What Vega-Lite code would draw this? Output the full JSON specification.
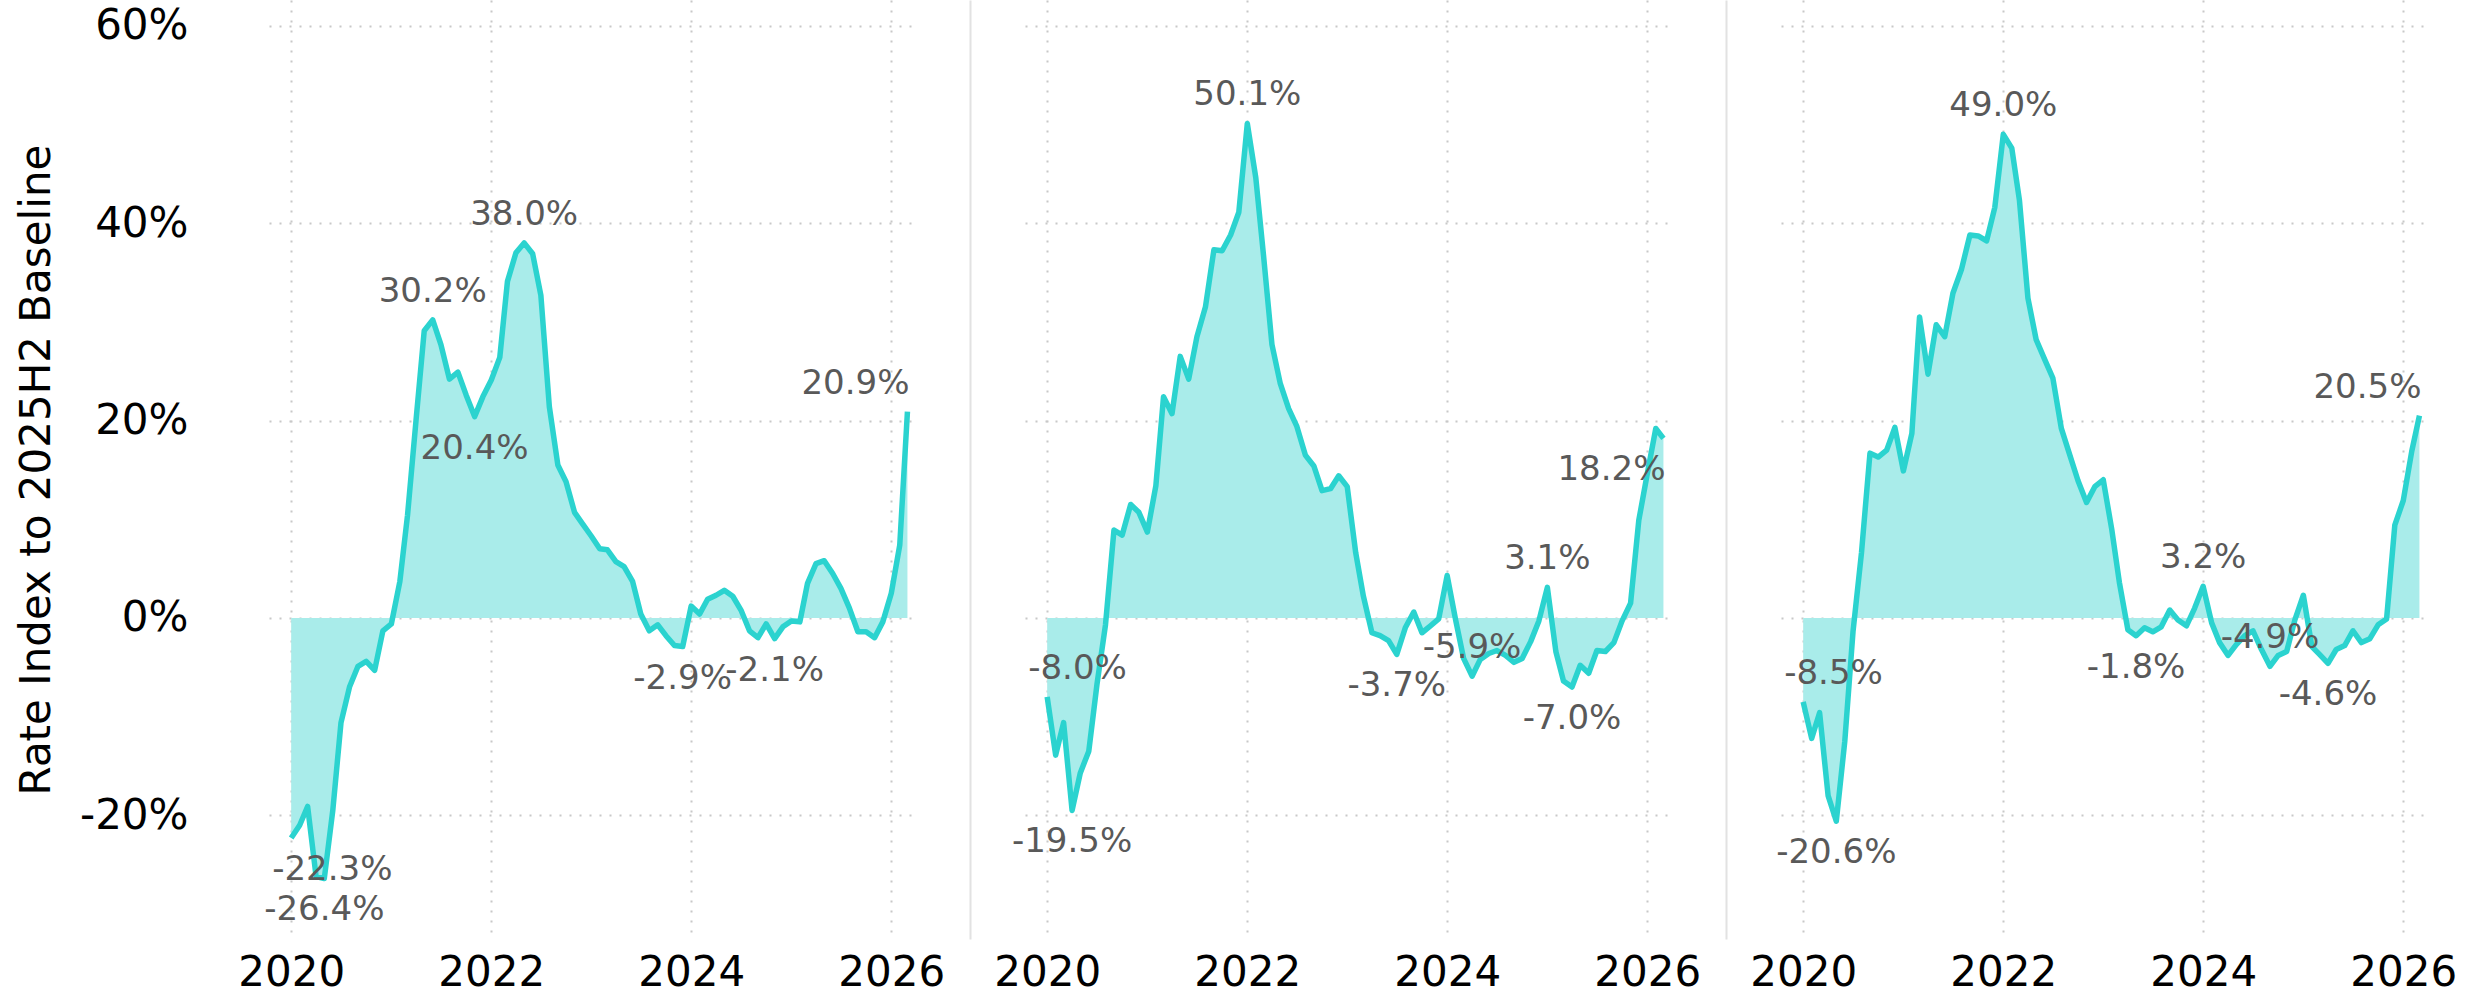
{
"$schema": "https://vega.github.io/schema/vega-lite/v6.json",
"background": "white",
"padding": {"left": 15, "top": 0, "right": 5, "bottom": 0},
"bounds": "flush",
"spacing": 114,
"data": {"values": [
{"panel":"P1","date":"2020-01-01","value":-0.223,"kind":"trough"},
{"panel":"P1","date":"2020-02-01","value":-0.210},
{"panel":"P1","date":"2020-03-01","value":-0.191},
{"panel":"P1","date":"2020-04-01","value":-0.262},
{"panel":"P1","date":"2020-05-01","value":-0.264,"kind":"trough"},
{"panel":"P1","date":"2020-06-01","value":-0.195},
{"panel":"P1","date":"2020-07-01","value":-0.106},
{"panel":"P1","date":"2020-08-01","value":-0.070},
{"panel":"P1","date":"2020-09-01","value":-0.049},
{"panel":"P1","date":"2020-10-01","value":-0.044},
{"panel":"P1","date":"2020-11-01","value":-0.053},
{"panel":"P1","date":"2020-12-01","value":-0.013},
{"panel":"P1","date":"2021-01-01","value":-0.006},
{"panel":"P1","date":"2021-02-01","value":0.037},
{"panel":"P1","date":"2021-03-01","value":0.104},
{"panel":"P1","date":"2021-04-01","value":0.200},
{"panel":"P1","date":"2021-05-01","value":0.291},
{"panel":"P1","date":"2021-06-01","value":0.302,"kind":"peak"},
{"panel":"P1","date":"2021-07-01","value":0.277},
{"panel":"P1","date":"2021-08-01","value":0.242},
{"panel":"P1","date":"2021-09-01","value":0.249},
{"panel":"P1","date":"2021-10-01","value":0.226},
{"panel":"P1","date":"2021-11-01","value":0.204,"kind":"trough"},
{"panel":"P1","date":"2021-12-01","value":0.224},
{"panel":"P1","date":"2022-01-01","value":0.241},
{"panel":"P1","date":"2022-02-01","value":0.264},
{"panel":"P1","date":"2022-03-01","value":0.341},
{"panel":"P1","date":"2022-04-01","value":0.370},
{"panel":"P1","date":"2022-05-01","value":0.380,"kind":"peak"},
{"panel":"P1","date":"2022-06-01","value":0.369},
{"panel":"P1","date":"2022-07-01","value":0.327},
{"panel":"P1","date":"2022-08-01","value":0.214},
{"panel":"P1","date":"2022-09-01","value":0.155},
{"panel":"P1","date":"2022-10-01","value":0.138},
{"panel":"P1","date":"2022-11-01","value":0.107},
{"panel":"P1","date":"2022-12-01","value":0.095},
{"panel":"P1","date":"2023-01-01","value":0.083},
{"panel":"P1","date":"2023-02-01","value":0.070},
{"panel":"P1","date":"2023-03-01","value":0.069},
{"panel":"P1","date":"2023-04-01","value":0.057},
{"panel":"P1","date":"2023-05-01","value":0.052},
{"panel":"P1","date":"2023-06-01","value":0.037},
{"panel":"P1","date":"2023-07-01","value":0.004},
{"panel":"P1","date":"2023-08-01","value":-0.013},
{"panel":"P1","date":"2023-09-01","value":-0.007},
{"panel":"P1","date":"2023-10-01","value":-0.018},
{"panel":"P1","date":"2023-11-01","value":-0.028},
{"panel":"P1","date":"2023-12-01","value":-0.029,"kind":"trough"},
{"panel":"P1","date":"2024-01-01","value":0.012},
{"panel":"P1","date":"2024-02-01","value":0.004},
{"panel":"P1","date":"2024-03-01","value":0.019},
{"panel":"P1","date":"2024-04-01","value":0.023},
{"panel":"P1","date":"2024-05-01","value":0.028},
{"panel":"P1","date":"2024-06-01","value":0.022},
{"panel":"P1","date":"2024-07-01","value":0.008},
{"panel":"P1","date":"2024-08-01","value":-0.013},
{"panel":"P1","date":"2024-09-01","value":-0.020},
{"panel":"P1","date":"2024-10-01","value":-0.006},
{"panel":"P1","date":"2024-11-01","value":-0.021,"kind":"trough"},
{"panel":"P1","date":"2024-12-01","value":-0.009},
{"panel":"P1","date":"2025-01-01","value":-0.003},
{"panel":"P1","date":"2025-02-01","value":-0.004},
{"panel":"P1","date":"2025-03-01","value":0.035},
{"panel":"P1","date":"2025-04-01","value":0.055},
{"panel":"P1","date":"2025-05-01","value":0.058},
{"panel":"P1","date":"2025-06-01","value":0.045},
{"panel":"P1","date":"2025-07-01","value":0.030},
{"panel":"P1","date":"2025-08-01","value":0.010},
{"panel":"P1","date":"2025-09-01","value":-0.014},
{"panel":"P1","date":"2025-10-01","value":-0.014},
{"panel":"P1","date":"2025-11-01","value":-0.020},
{"panel":"P1","date":"2025-12-01","value":-0.004},
{"panel":"P1","date":"2026-01-01","value":0.025},
{"panel":"P1","date":"2026-02-01","value":0.074},
{"panel":"P1","date":"2026-03-01","value":0.209,"kind":"peak"},
{"panel":"P2","date":"2020-01-01","value":-0.080,"kind":"peak"},
{"panel":"P2","date":"2020-02-01","value":-0.139},
{"panel":"P2","date":"2020-03-01","value":-0.106},
{"panel":"P2","date":"2020-04-01","value":-0.195,"kind":"trough"},
{"panel":"P2","date":"2020-05-01","value":-0.157},
{"panel":"P2","date":"2020-06-01","value":-0.135},
{"panel":"P2","date":"2020-07-01","value":-0.067},
{"panel":"P2","date":"2020-08-01","value":-0.007},
{"panel":"P2","date":"2020-09-01","value":0.089},
{"panel":"P2","date":"2020-10-01","value":0.084},
{"panel":"P2","date":"2020-11-01","value":0.115},
{"panel":"P2","date":"2020-12-01","value":0.107},
{"panel":"P2","date":"2021-01-01","value":0.087},
{"panel":"P2","date":"2021-02-01","value":0.134},
{"panel":"P2","date":"2021-03-01","value":0.224},
{"panel":"P2","date":"2021-04-01","value":0.207},
{"panel":"P2","date":"2021-05-01","value":0.265},
{"panel":"P2","date":"2021-06-01","value":0.242},
{"panel":"P2","date":"2021-07-01","value":0.285},
{"panel":"P2","date":"2021-08-01","value":0.315},
{"panel":"P2","date":"2021-09-01","value":0.373},
{"panel":"P2","date":"2021-10-01","value":0.372},
{"panel":"P2","date":"2021-11-01","value":0.388},
{"panel":"P2","date":"2021-12-01","value":0.411},
{"panel":"P2","date":"2022-01-01","value":0.501,"kind":"peak"},
{"panel":"P2","date":"2022-02-01","value":0.446},
{"panel":"P2","date":"2022-03-01","value":0.368},
{"panel":"P2","date":"2022-04-01","value":0.277},
{"panel":"P2","date":"2022-05-01","value":0.238},
{"panel":"P2","date":"2022-06-01","value":0.212},
{"panel":"P2","date":"2022-07-01","value":0.194},
{"panel":"P2","date":"2022-08-01","value":0.165},
{"panel":"P2","date":"2022-09-01","value":0.154},
{"panel":"P2","date":"2022-10-01","value":0.129},
{"panel":"P2","date":"2022-11-01","value":0.131},
{"panel":"P2","date":"2022-12-01","value":0.144},
{"panel":"P2","date":"2023-01-01","value":0.133},
{"panel":"P2","date":"2023-02-01","value":0.066},
{"panel":"P2","date":"2023-03-01","value":0.022},
{"panel":"P2","date":"2023-04-01","value":-0.015},
{"panel":"P2","date":"2023-05-01","value":-0.018},
{"panel":"P2","date":"2023-06-01","value":-0.023},
{"panel":"P2","date":"2023-07-01","value":-0.037,"kind":"trough"},
{"panel":"P2","date":"2023-08-01","value":-0.010},
{"panel":"P2","date":"2023-09-01","value":0.006},
{"panel":"P2","date":"2023-10-01","value":-0.015},
{"panel":"P2","date":"2023-11-01","value":-0.008},
{"panel":"P2","date":"2023-12-01","value":-0.001},
{"panel":"P2","date":"2024-01-01","value":0.043},
{"panel":"P2","date":"2024-02-01","value":-0.002},
{"panel":"P2","date":"2024-03-01","value":-0.041},
{"panel":"P2","date":"2024-04-01","value":-0.059,"kind":"peak"},
{"panel":"P2","date":"2024-05-01","value":-0.042},
{"panel":"P2","date":"2024-06-01","value":-0.036},
{"panel":"P2","date":"2024-07-01","value":-0.033},
{"panel":"P2","date":"2024-08-01","value":-0.038},
{"panel":"P2","date":"2024-09-01","value":-0.045},
{"panel":"P2","date":"2024-10-01","value":-0.041},
{"panel":"P2","date":"2024-11-01","value":-0.024},
{"panel":"P2","date":"2024-12-01","value":-0.003},
{"panel":"P2","date":"2025-01-01","value":0.031,"kind":"peak"},
{"panel":"P2","date":"2025-02-01","value":-0.034},
{"panel":"P2","date":"2025-03-01","value":-0.064},
{"panel":"P2","date":"2025-04-01","value":-0.070,"kind":"trough"},
{"panel":"P2","date":"2025-05-01","value":-0.048},
{"panel":"P2","date":"2025-06-01","value":-0.056},
{"panel":"P2","date":"2025-07-01","value":-0.033},
{"panel":"P2","date":"2025-08-01","value":-0.034},
{"panel":"P2","date":"2025-09-01","value":-0.025},
{"panel":"P2","date":"2025-10-01","value":-0.003},
{"panel":"P2","date":"2025-11-01","value":0.015},
{"panel":"P2","date":"2025-12-01","value":0.099},
{"panel":"P2","date":"2026-01-01","value":0.146},
{"panel":"P2","date":"2026-02-01","value":0.192},
{"panel":"P2","date":"2026-03-01","value":0.182,"kind":"trough"},
{"panel":"P3","date":"2020-01-01","value":-0.085,"kind":"peak"},
{"panel":"P3","date":"2020-02-01","value":-0.122},
{"panel":"P3","date":"2020-03-01","value":-0.096},
{"panel":"P3","date":"2020-04-01","value":-0.180},
{"panel":"P3","date":"2020-05-01","value":-0.206,"kind":"trough"},
{"panel":"P3","date":"2020-06-01","value":-0.125},
{"panel":"P3","date":"2020-07-01","value":-0.014},
{"panel":"P3","date":"2020-08-01","value":0.066},
{"panel":"P3","date":"2020-09-01","value":0.167},
{"panel":"P3","date":"2020-10-01","value":0.163},
{"panel":"P3","date":"2020-11-01","value":0.170},
{"panel":"P3","date":"2020-12-01","value":0.193},
{"panel":"P3","date":"2021-01-01","value":0.149},
{"panel":"P3","date":"2021-02-01","value":0.187},
{"panel":"P3","date":"2021-03-01","value":0.305},
{"panel":"P3","date":"2021-04-01","value":0.247},
{"panel":"P3","date":"2021-05-01","value":0.297},
{"panel":"P3","date":"2021-06-01","value":0.285},
{"panel":"P3","date":"2021-07-01","value":0.329},
{"panel":"P3","date":"2021-08-01","value":0.353},
{"panel":"P3","date":"2021-09-01","value":0.388},
{"panel":"P3","date":"2021-10-01","value":0.387},
{"panel":"P3","date":"2021-11-01","value":0.382},
{"panel":"P3","date":"2021-12-01","value":0.416},
{"panel":"P3","date":"2022-01-01","value":0.490,"kind":"peak"},
{"panel":"P3","date":"2022-02-01","value":0.476},
{"panel":"P3","date":"2022-03-01","value":0.423},
{"panel":"P3","date":"2022-04-01","value":0.324},
{"panel":"P3","date":"2022-05-01","value":0.282},
{"panel":"P3","date":"2022-06-01","value":0.262},
{"panel":"P3","date":"2022-07-01","value":0.243},
{"panel":"P3","date":"2022-08-01","value":0.192},
{"panel":"P3","date":"2022-09-01","value":0.165},
{"panel":"P3","date":"2022-10-01","value":0.139},
{"panel":"P3","date":"2022-11-01","value":0.117},
{"panel":"P3","date":"2022-12-01","value":0.133},
{"panel":"P3","date":"2023-01-01","value":0.140},
{"panel":"P3","date":"2023-02-01","value":0.090},
{"panel":"P3","date":"2023-03-01","value":0.036},
{"panel":"P3","date":"2023-04-01","value":-0.012},
{"panel":"P3","date":"2023-05-01","value":-0.018,"kind":"trough"},
{"panel":"P3","date":"2023-06-01","value":-0.010},
{"panel":"P3","date":"2023-07-01","value":-0.014},
{"panel":"P3","date":"2023-08-01","value":-0.009},
{"panel":"P3","date":"2023-09-01","value":0.008},
{"panel":"P3","date":"2023-10-01","value":-0.002},
{"panel":"P3","date":"2023-11-01","value":-0.008},
{"panel":"P3","date":"2023-12-01","value":0.010},
{"panel":"P3","date":"2024-01-01","value":0.032,"kind":"peak"},
{"panel":"P3","date":"2024-02-01","value":-0.005},
{"panel":"P3","date":"2024-03-01","value":-0.025},
{"panel":"P3","date":"2024-04-01","value":-0.038},
{"panel":"P3","date":"2024-05-01","value":-0.027},
{"panel":"P3","date":"2024-06-01","value":-0.018},
{"panel":"P3","date":"2024-07-01","value":-0.013},
{"panel":"P3","date":"2024-08-01","value":-0.032},
{"panel":"P3","date":"2024-09-01","value":-0.049,"kind":"peak"},
{"panel":"P3","date":"2024-10-01","value":-0.038},
{"panel":"P3","date":"2024-11-01","value":-0.034},
{"panel":"P3","date":"2024-12-01","value":-0.002},
{"panel":"P3","date":"2025-01-01","value":0.023},
{"panel":"P3","date":"2025-02-01","value":-0.029},
{"panel":"P3","date":"2025-03-01","value":-0.037},
{"panel":"P3","date":"2025-04-01","value":-0.046,"kind":"trough"},
{"panel":"P3","date":"2025-05-01","value":-0.032},
{"panel":"P3","date":"2025-06-01","value":-0.028},
{"panel":"P3","date":"2025-07-01","value":-0.013},
{"panel":"P3","date":"2025-08-01","value":-0.025},
{"panel":"P3","date":"2025-09-01","value":-0.021},
{"panel":"P3","date":"2025-10-01","value":-0.007},
{"panel":"P3","date":"2025-11-01","value":-0.001},
{"panel":"P3","date":"2025-12-01","value":0.094},
{"panel":"P3","date":"2026-01-01","value":0.119},
{"panel":"P3","date":"2026-02-01","value":0.169},
{"panel":"P3","date":"2026-03-01","value":0.205,"kind":"peak"}
]},
"hconcat": [
{
 "width": 642, "height": 939,
 "transform": [{"filter": "datum.panel == 'P1'"}],
 "encoding": {
  "x": {"field": "date", "type": "temporal", "scale": {"type": "utc", "domain": [{"year": 2019, "month": 10, "date": 12, "utc": true}, {"year": 2026, "month": 3, "date": 14, "utc": true}]}, "axis": {"values": [{"year": 2020, "utc": true}, {"year": 2022, "utc": true}, {"year": 2024, "utc": true}, {"year": 2026, "utc": true}], "format": "%Y", "title": null, "labelPadding": 13, "labelFlush": false}},
  "y": {"field": "value", "type": "quantitative", "scale": {"domain": [-0.3253, 0.6261], "nice": false, "zero": false}, "axis": {"values": [-0.2, 0, 0.2, 0.4, 0.6], "format": ".0%", "title": "Rate Index to 2025H2 Baseline", "titlePadding": 30, "titleBaseline": "alphabetic", "labelPadding": 81}}
 },
 "layer": [
  {"mark": {"type": "area", "color": "#a9ecea", "opacity": 1}, "encoding": {"y2": {"datum": 0}}},
  {"mark": {"type": "line", "color": "#2bd3cf", "strokeWidth": 5.5, "strokeJoin": "round"}},
  {"transform": [{"filter": "datum.kind == 'peak' && !(utcyear(toDate(datum.date)) == 2020 && utcmonth(toDate(datum.date)) == 0) && !(utcyear(toDate(datum.date)) == 2026 && utcmonth(toDate(datum.date)) == 2)"}], "mark": {"type": "text", "align": "center", "baseline": "middle", "dy": -28}, "encoding": {"text": {"field": "value", "type": "quantitative", "format": ".1%"}}},
  {"transform": [{"filter": "datum.kind == 'trough' && !(utcyear(toDate(datum.date)) == 2020 && utcmonth(toDate(datum.date)) == 0) && !(utcyear(toDate(datum.date)) == 2026 && utcmonth(toDate(datum.date)) == 2)"}], "mark": {"type": "text", "align": "center", "baseline": "middle", "dy": 32}, "encoding": {"text": {"field": "value", "type": "quantitative", "format": ".1%"}}},
  {"transform": [{"filter": "datum.kind == 'peak' && utcyear(toDate(datum.date)) == 2020 && utcmonth(toDate(datum.date)) == 0"}], "mark": {"type": "text", "align": "left", "baseline": "middle", "dx": -19, "dy": -28}, "encoding": {"text": {"field": "value", "type": "quantitative", "format": ".1%"}}},
  {"transform": [{"filter": "datum.kind == 'trough' && utcyear(toDate(datum.date)) == 2020 && utcmonth(toDate(datum.date)) == 0"}], "mark": {"type": "text", "align": "left", "baseline": "middle", "dx": -19, "dy": 32}, "encoding": {"text": {"field": "value", "type": "quantitative", "format": ".1%"}}},
  {"transform": [{"filter": "datum.kind == 'peak' && utcyear(toDate(datum.date)) == 2026 && utcmonth(toDate(datum.date)) == 2"}], "mark": {"type": "text", "align": "right", "baseline": "middle", "dx": 2, "dy": -28}, "encoding": {"text": {"field": "value", "type": "quantitative", "format": ".1%"}}},
  {"transform": [{"filter": "datum.kind == 'trough' && utcyear(toDate(datum.date)) == 2026 && utcmonth(toDate(datum.date)) == 2"}], "mark": {"type": "text", "align": "right", "baseline": "middle", "dx": 2, "dy": 32}, "encoding": {"text": {"field": "value", "type": "quantitative", "format": ".1%"}}}
 ]
},
{
 "width": 642, "height": 939,
 "transform": [{"filter": "datum.panel == 'P2'"}],
 "encoding": {
  "x": {"field": "date", "type": "temporal", "scale": {"type": "utc", "domain": [{"year": 2019, "month": 10, "date": 12, "utc": true}, {"year": 2026, "month": 3, "date": 14, "utc": true}]}, "axis": {"values": [{"year": 2020, "utc": true}, {"year": 2022, "utc": true}, {"year": 2024, "utc": true}, {"year": 2026, "utc": true}], "format": "%Y", "title": null, "labelPadding": 13, "labelFlush": false}},
  "y": {"field": "value", "type": "quantitative", "scale": {"domain": [-0.3253, 0.6261], "nice": false, "zero": false}, "axis": {"values": [-0.2, 0, 0.2, 0.4, 0.6], "labels": false, "title": null, "domain": true, "domainColor": "#e2e2e2", "domainWidth": 2, "offset": 55}}
 },
 "layer": [
  {"mark": {"type": "area", "color": "#a9ecea", "opacity": 1}, "encoding": {"y2": {"datum": 0}}},
  {"mark": {"type": "line", "color": "#2bd3cf", "strokeWidth": 5.5, "strokeJoin": "round"}},
  {"transform": [{"filter": "datum.kind == 'peak' && !(utcyear(toDate(datum.date)) == 2020 && utcmonth(toDate(datum.date)) == 0) && !(utcyear(toDate(datum.date)) == 2026 && utcmonth(toDate(datum.date)) == 2)"}], "mark": {"type": "text", "align": "center", "baseline": "middle", "dy": -28}, "encoding": {"text": {"field": "value", "type": "quantitative", "format": ".1%"}}},
  {"transform": [{"filter": "datum.kind == 'trough' && !(utcyear(toDate(datum.date)) == 2020 && utcmonth(toDate(datum.date)) == 0) && !(utcyear(toDate(datum.date)) == 2026 && utcmonth(toDate(datum.date)) == 2)"}], "mark": {"type": "text", "align": "center", "baseline": "middle", "dy": 32}, "encoding": {"text": {"field": "value", "type": "quantitative", "format": ".1%"}}},
  {"transform": [{"filter": "datum.kind == 'peak' && utcyear(toDate(datum.date)) == 2020 && utcmonth(toDate(datum.date)) == 0"}], "mark": {"type": "text", "align": "left", "baseline": "middle", "dx": -19, "dy": -28}, "encoding": {"text": {"field": "value", "type": "quantitative", "format": ".1%"}}},
  {"transform": [{"filter": "datum.kind == 'trough' && utcyear(toDate(datum.date)) == 2020 && utcmonth(toDate(datum.date)) == 0"}], "mark": {"type": "text", "align": "left", "baseline": "middle", "dx": -19, "dy": 32}, "encoding": {"text": {"field": "value", "type": "quantitative", "format": ".1%"}}},
  {"transform": [{"filter": "datum.kind == 'peak' && utcyear(toDate(datum.date)) == 2026 && utcmonth(toDate(datum.date)) == 2"}], "mark": {"type": "text", "align": "right", "baseline": "middle", "dx": 2, "dy": -28}, "encoding": {"text": {"field": "value", "type": "quantitative", "format": ".1%"}}},
  {"transform": [{"filter": "datum.kind == 'trough' && utcyear(toDate(datum.date)) == 2026 && utcmonth(toDate(datum.date)) == 2"}], "mark": {"type": "text", "align": "right", "baseline": "middle", "dx": 2, "dy": 32}, "encoding": {"text": {"field": "value", "type": "quantitative", "format": ".1%"}}}
 ]
},
{
 "width": 642, "height": 939,
 "transform": [{"filter": "datum.panel == 'P3'"}],
 "encoding": {
  "x": {"field": "date", "type": "temporal", "scale": {"type": "utc", "domain": [{"year": 2019, "month": 10, "date": 12, "utc": true}, {"year": 2026, "month": 3, "date": 14, "utc": true}]}, "axis": {"values": [{"year": 2020, "utc": true}, {"year": 2022, "utc": true}, {"year": 2024, "utc": true}, {"year": 2026, "utc": true}], "format": "%Y", "title": null, "labelPadding": 13, "labelFlush": false}},
  "y": {"field": "value", "type": "quantitative", "scale": {"domain": [-0.3253, 0.6261], "nice": false, "zero": false}, "axis": {"values": [-0.2, 0, 0.2, 0.4, 0.6], "labels": false, "title": null, "domain": true, "domainColor": "#e2e2e2", "domainWidth": 2, "offset": 55}}
 },
 "layer": [
  {"mark": {"type": "area", "color": "#a9ecea", "opacity": 1}, "encoding": {"y2": {"datum": 0}}},
  {"mark": {"type": "line", "color": "#2bd3cf", "strokeWidth": 5.5, "strokeJoin": "round"}},
  {"transform": [{"filter": "datum.kind == 'peak' && !(utcyear(toDate(datum.date)) == 2020 && utcmonth(toDate(datum.date)) == 0) && !(utcyear(toDate(datum.date)) == 2026 && utcmonth(toDate(datum.date)) == 2)"}], "mark": {"type": "text", "align": "center", "baseline": "middle", "dy": -28}, "encoding": {"text": {"field": "value", "type": "quantitative", "format": ".1%"}}},
  {"transform": [{"filter": "datum.kind == 'trough' && !(utcyear(toDate(datum.date)) == 2020 && utcmonth(toDate(datum.date)) == 0) && !(utcyear(toDate(datum.date)) == 2026 && utcmonth(toDate(datum.date)) == 2)"}], "mark": {"type": "text", "align": "center", "baseline": "middle", "dy": 32}, "encoding": {"text": {"field": "value", "type": "quantitative", "format": ".1%"}}},
  {"transform": [{"filter": "datum.kind == 'peak' && utcyear(toDate(datum.date)) == 2020 && utcmonth(toDate(datum.date)) == 0"}], "mark": {"type": "text", "align": "left", "baseline": "middle", "dx": -19, "dy": -28}, "encoding": {"text": {"field": "value", "type": "quantitative", "format": ".1%"}}},
  {"transform": [{"filter": "datum.kind == 'trough' && utcyear(toDate(datum.date)) == 2020 && utcmonth(toDate(datum.date)) == 0"}], "mark": {"type": "text", "align": "left", "baseline": "middle", "dx": -19, "dy": 32}, "encoding": {"text": {"field": "value", "type": "quantitative", "format": ".1%"}}},
  {"transform": [{"filter": "datum.kind == 'peak' && utcyear(toDate(datum.date)) == 2026 && utcmonth(toDate(datum.date)) == 2"}], "mark": {"type": "text", "align": "right", "baseline": "middle", "dx": 2, "dy": -28}, "encoding": {"text": {"field": "value", "type": "quantitative", "format": ".1%"}}},
  {"transform": [{"filter": "datum.kind == 'trough' && utcyear(toDate(datum.date)) == 2026 && utcmonth(toDate(datum.date)) == 2"}], "mark": {"type": "text", "align": "right", "baseline": "middle", "dx": 2, "dy": 32}, "encoding": {"text": {"field": "value", "type": "quantitative", "format": ".1%"}}}
 ]
}
],
"resolve": {"scale": {"x": "independent", "y": "independent"}},
"config": {
 "font": "DejaVu Sans",
 "locale": {"number": {"decimal": ".", "thousands": ",", "grouping": [3], "currency": ["$", ""], "minus": "-"}},
 "view": {"stroke": null},
 "axis": {"labelFont": "DejaVu Sans", "labelFontSize": 42, "labelColor": "#000000", "titleFont": "DejaVu Sans", "titleFontSize": 42, "titleFontWeight": "normal", "titleColor": "#000000", "domain": false, "ticks": false, "grid": true, "gridColor": "#c8c8c8", "gridDash": [2, 8], "gridWidth": 2, "gridOpacity": 1},
 "text": {"font": "DejaVu Sans", "fontSize": 34, "color": "#595959"}
}
}
